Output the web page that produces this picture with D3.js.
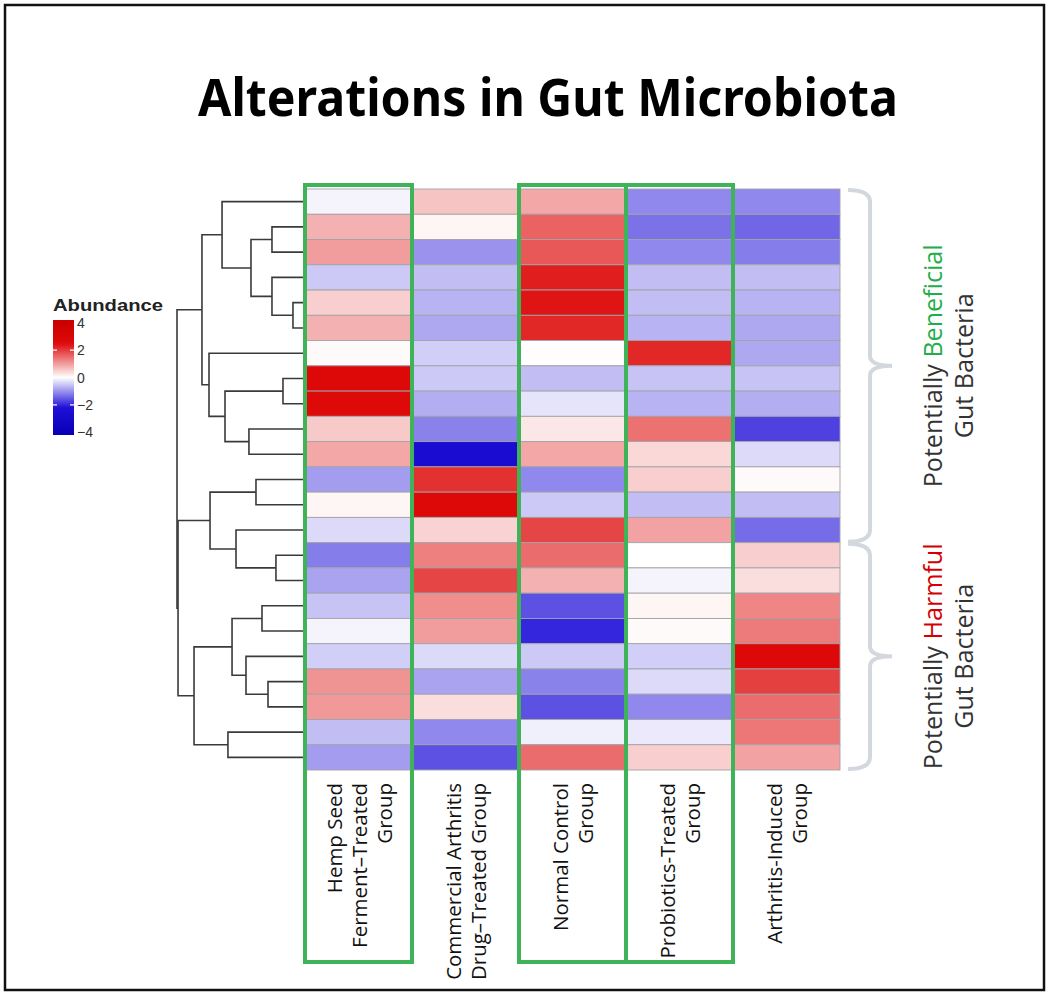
<!DOCTYPE html>
<html><head><meta charset="utf-8">
<script src="https://cdn.jsdelivr.net/npm/d3@7"></script>
<style>html,body{margin:0;padding:0;background:#fff;}svg{display:block;}</style>
</head><body>
<script>
// ---------- DATA ----------
const groupNames = ["Hemp Seed Ferment–Treated Group","Commercial Arthritis Drug–Treated Group","Normal Control Group","Probiotics-Treated Group","Arthritis-Induced Group"];
const groupLabelLines = [["Hemp Seed","Ferment–Treated","Group"],["Commercial Arthritis","Drug–Treated Group"],["Normal Control","Group"],["Probiotics-Treated","Group"],["Arthritis-Induced","Group"]];
const highlightedGroups = [0, 2, 3];
// abundance (z-score) per bacterium row, top to bottom
const hempSeed   = [-0.1, 0.8, 1.0,-0.5, 0.5, 0.8, 0.05, 2.6, 2.5, 0.55, 0.9,-0.9, 0.1,-0.35,-1.2,-0.85,-0.55,-0.1,-0.45, 1.1, 1.05,-0.6,-0.9];
const commercial = [ 0.6, 0.1,-1.0,-0.6,-0.7,-0.8,-0.45,-0.5,-0.75,-1.15,-2.6, 2.1, 2.6, 0.45, 1.3, 1.9, 1.15, 1.0,-0.35,-0.85, 0.35,-1.1,-1.6];
const normal     = [ 0.9, 1.6, 1.7, 2.3, 2.4, 2.2, 0.02,-0.6,-0.25, 0.25, 0.9,-1.1,-0.5, 1.9, 1.5, 0.8,-1.6,-2.0,-0.5,-1.15,-1.6,-0.15, 1.5];
const probiotics = [-1.1,-1.3,-1.1,-0.6,-0.6,-0.7, 2.2,-0.55,-0.7, 1.45, 0.4, 0.5,-0.6, 0.95, 0.0,-0.1, 0.1, 0.05,-0.45,-0.35,-1.1,-0.2, 0.5];
const arthritis  = [-1.1,-1.4,-1.2,-0.6,-0.7,-0.8,-0.8,-0.55,-0.75,-1.75,-0.35, 0.05,-0.6,-1.35, 0.5, 0.35, 1.25, 1.35, 2.6, 1.95, 1.5, 1.4, 0.95];
const seriesValues = [hempSeed, commercial, normal, probiotics, arthritis];
// row dendrogram, hclust style: negative = leaf (1-based row), positive = earlier merge (1-based)
const mergeLeft   = [-5,-2,-4, 2,-1,-8,-10, 6,-7, 5,-12,-15,-14,11,-17,-20,-19,15,-22,18,14,10];
const mergeRight  = [-6,-3, 1, 3, 4,-9,-11, 7, 8, 9,-13,-16, 12,13,-18,-21, 16,17,-23,19,20,21];
const mergeHeight = [0.94,2.58,2.58,4.22,6.48,1.72,4.38,6.25,7.5,8.05,3.83,2.27,5.39,7.42,3.36,2.89,4.61,5.7,6.02,8.67,9.92,10.0];
// bacteria groups (row index ranges)
const bacteriaGroupWord  = ["Beneficial","Harmful"];
const bacteriaGroupColor = ["#1fae4a","#d40000"];
const bacteriaGroupStart = [0, 14];
const bacteriaGroupEnd   = [13, 22];
const legendTicks = [4, 2, 0, -2, -4];
const titleText = "Alterations in Gut Microbiota";

// ---------- SETUP ----------
const W = 1050, H = 995;
const svg = d3.select("body").append("svg").attr("width", W).attr("height", H);
svg.append("rect").attr("x",5).attr("y",5).attr("width",1039).attr("height",985)
  .attr("fill","#fff").attr("stroke","#111").attr("stroke-width",2.5);

svg.append("text").attr("x",548).attr("y",116).attr("text-anchor","middle")
  .attr("font-family","'Noto Sans', 'Open Sans', sans-serif").attr("font-weight",700)
  .attr("font-size",52).attr("textLength",700).attr("lengthAdjust","spacingAndGlyphs")
  .attr("fill","#000").text(titleText);

const nRows = hempSeed.length;
const x = d3.scaleBand().domain(d3.range(groupNames.length)).range([305, 840]);
const y = d3.scaleBand().domain(d3.range(nRows)).range([189, 770]);
const color = d3.scaleLinear().domain([-4,-2.2,0,2.5,4])
  .range(["#0800b8","#2010d8","#ffffff","#de0a0a","#cc0000"]).clamp(true);

// ---------- HEATMAP ----------
const cells = [];
seriesValues.forEach((arr, c) => arr.forEach((v, r) => cells.push({c, r, v})));
svg.append("g").selectAll("rect").data(cells).join("rect")
  .attr("x", d => x(d.c)).attr("y", d => y(d.r))
  .attr("width", x.bandwidth()).attr("height", y.bandwidth())
  .attr("fill", d => color(d.v)).attr("stroke", "#a3a3a8").attr("stroke-width", 0.9);

// ---------- DENDROGRAM ----------
const hx = d3.scaleLinear().domain([0, 10]).range([305, 177]);
const nodeY = [], nodeH = [];
function pos(id){ return id < 0 ? {y: y(-id-1) + y.bandwidth()/2, h: 0} : {y: nodeY[id-1], h: nodeH[id-1]}; }
const dend = svg.append("g").attr("fill","none").attr("stroke","#3a3a3a").attr("stroke-width",1.6);
mergeLeft.forEach((l, i) => {
  const a = pos(l), b = pos(mergeRight[i]), h = mergeHeight[i];
  nodeY.push((a.y + b.y)/2); nodeH.push(h);
  const p = d3.path();
  p.moveTo(hx(a.h), a.y); p.lineTo(hx(h), a.y); p.lineTo(hx(h), b.y); p.lineTo(hx(b.h), b.y);
  dend.append("path").attr("d", p.toString());
});

// ---------- GREEN BOXES ----------
svg.append("g").selectAll("rect").data(highlightedGroups).join("rect")
  .attr("x", d => x(d)).attr("y", 185).attr("width", x.bandwidth()).attr("height", 777)
  .attr("fill","none").attr("stroke","#3fb358").attr("stroke-width",4);

// ---------- COLUMN LABELS ----------
const labelFont = "'Open Sans', 'Noto Sans', sans-serif";
// fit font size so that "Normal Control" is about 148px long, as in the reference
const probe = svg.append("text").attr("font-family", labelFont).attr("font-size", 20).text("Normal Control");
const labelSize = 20 * 148 / probe.node().getComputedTextLength();
probe.remove();
groupLabelLines.forEach((lines, c) => {
  const g = svg.append("g").attr("transform", `translate(${x(c)+x.bandwidth()/2},783) rotate(-90)`);
  lines.forEach((t, i) => {
    g.append("text").attr("x",0).attr("y",(i-(lines.length-1)/2)*25)
      .attr("text-anchor","end").attr("dominant-baseline","central")
      .attr("font-family",labelFont).attr("font-size",labelSize)
      .attr("fill","#111").text(t);
  });
});

// ---------- BRACES & GROUP LABELS ----------
const probe2 = svg.append("text").attr("font-family", labelFont).attr("font-size", 20).text("Potentially Beneficial");
const sideSize = 20 * 243 / probe2.node().getComputedTextLength();
probe2.remove();
bacteriaGroupWord.forEach((word, i) => {
  const y0 = y(bacteriaGroupStart[i]) + 1, y1 = y(bacteriaGroupEnd[i]) + y.bandwidth() - 1, ym = (y0+y1)/2;
  const p = d3.path();
  p.moveTo(848, y0); p.quadraticCurveTo(870, y0, 870, y0+12);
  p.lineTo(870, ym-10); p.quadraticCurveTo(870, ym, 892, ym);
  p.quadraticCurveTo(870, ym, 870, ym+10);
  p.lineTo(870, y1-12); p.quadraticCurveTo(870, y1, 848, y1);
  svg.append("path").attr("d", p.toString()).attr("fill","none").attr("stroke","#d3d7de").attr("stroke-width",4);
  const g = svg.append("g").attr("transform", `translate(947,${ym}) rotate(-90)`)
    .attr("font-family",labelFont).attr("font-size",sideSize).attr("fill","#333");
  const t1 = g.append("text").attr("x",0).attr("y",-15).attr("text-anchor","middle").attr("dominant-baseline","central");
  t1.append("tspan").text("Potentially ");
  t1.append("tspan").attr("fill", bacteriaGroupColor[i]).text(word);
  g.append("text").attr("x",0).attr("y",16).attr("text-anchor","middle").attr("dominant-baseline","central").text("Gut Bacteria");
});

// ---------- LEGEND ----------
const ly = d3.scaleLinear().domain([-4.2, 4.2]).range([435, 320]);
const grad = svg.append("defs").append("linearGradient").attr("id","lg")
  .attr("x1",0).attr("y1",1).attr("x2",0).attr("y2",0);
d3.range(-4.2, 4.21, 0.2).forEach(v => {
  grad.append("stop").attr("offset", (v+4.2)/8.4).attr("stop-color", color(v));
});
svg.append("text").attr("x",53).attr("y",311).attr("font-family","'Liberation Sans', Arial, sans-serif")
  .attr("font-weight",700).attr("font-size",16).attr("textLength",110).attr("lengthAdjust","spacingAndGlyphs")
  .attr("fill","#222").text("Abundance");
svg.append("rect").attr("x",53).attr("y",ly(4.2)).attr("width",21).attr("height",ly(-4.2)-ly(4.2)).attr("fill","url(#lg)");
const lt = svg.append("g");
legendTicks.forEach(v => {
  if (Math.abs(v) === 2) {
    lt.append("line").attr("x1",53).attr("x2",57).attr("y1",ly(v)).attr("y2",ly(v)).attr("stroke","#fff").attr("stroke-width",1.2);
    lt.append("line").attr("x1",70).attr("x2",74).attr("y1",ly(v)).attr("y2",ly(v)).attr("stroke","#fff").attr("stroke-width",1.2);
  }
  lt.append("text").attr("x",77).attr("y",ly(v)).attr("dominant-baseline","central")
    .attr("font-family","'Liberation Sans', Arial, sans-serif").attr("font-size",14).attr("fill","#333")
    .text(v < 0 ? "\u2212" + Math.abs(v) : String(v));
});
</script>
</body></html>
